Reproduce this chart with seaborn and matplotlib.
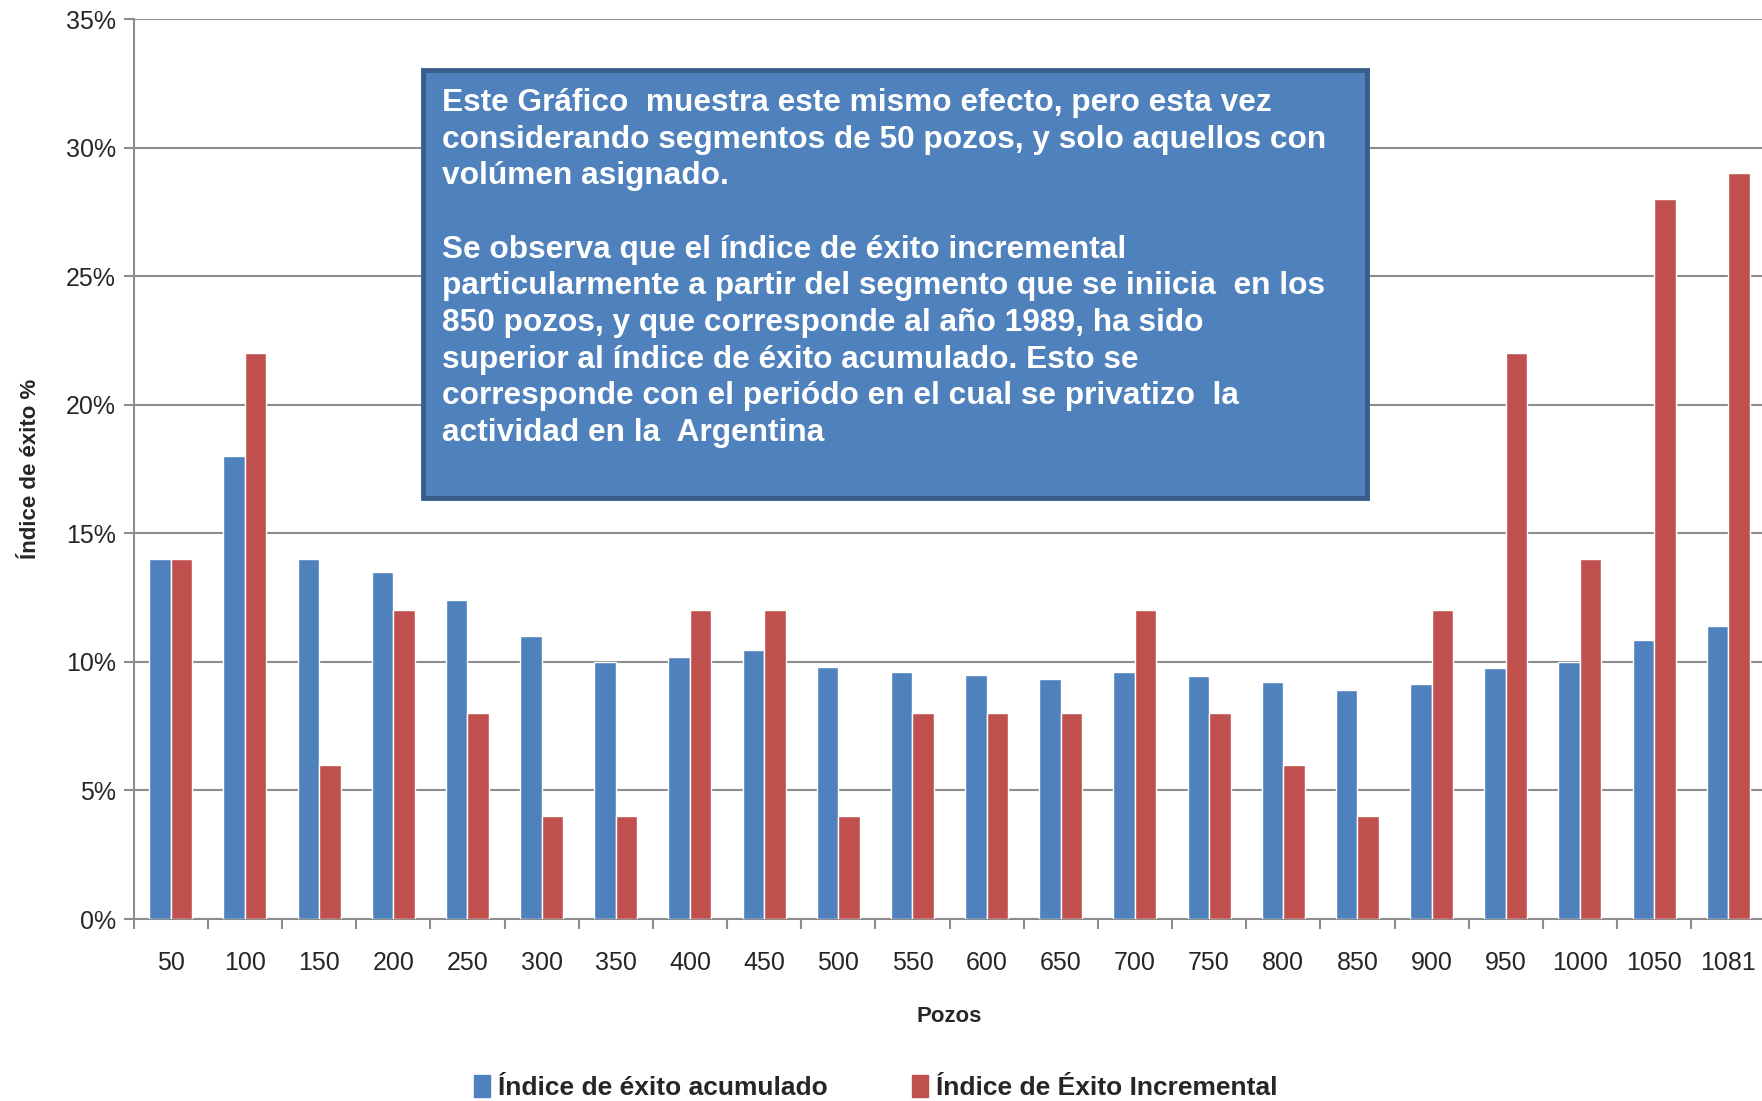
import numpy as np
import pandas as pd
import seaborn as sns
import matplotlib.pyplot as plt
from matplotlib.patches import Rectangle
from matplotlib.ticker import PercentFormatter

pozos = ["50", "100", "150", "200", "250", "300", "350", "400", "450", "500", "550",
         "600", "650", "700", "750", "800", "850", "900", "950", "1000", "1050", "1081"]
acumulado = [14.0, 18.0, 14.0, 13.5, 12.4, 11.0, 10.0, 10.2, 10.45, 9.8, 9.6,
             9.5, 9.35, 9.6, 9.45, 9.2, 8.9, 9.15, 9.75, 10.0, 10.85, 11.4]
incremental = [14, 22, 6, 12, 8, 4, 4, 12, 12, 4, 8,
               8, 8, 12, 8, 6, 4, 12, 22, 14, 28, 29]
series = ["Índice de éxito acumulado", "Índice de Éxito Incremental"]
colores = ["#4F81BD", "#C0504D"]

nota = ("Este Gráfico  muestra este mismo efecto, pero esta vez\n"
        "considerando segmentos de 50 pozos, y solo aquellos con\n"
        "volúmen asignado.\n"
        "\n"
        "Se observa que el índice de éxito incremental\n"
        "particularmente a partir del segmento que se iniicia  en los\n"
        "850 pozos, y que corresponde al año 1989, ha sido\n"
        "superior al índice de éxito acumulado. Esto se\n"
        "corresponde con el periódo en el cual se privatizo  la\n"
        "actividad en la  Argentina")

df = pd.DataFrame({
    "Pozos": pozos * 2,
    "valor": acumulado + incremental,
    "serie": [series[0]] * len(pozos) + [series[1]] * len(pozos),
})

sns.set_style("white")
plt.rcParams["font.family"] = ["Liberation Sans", "DejaVu Sans"]

fig = plt.figure(figsize=(17.62, 11.01), dpi=100)
ax = fig.add_axes([0.0759, 0.1653, 0.926, 0.8173])

sns.barplot(data=df, x="Pozos", y="valor", hue="serie", palette=colores,
            width=0.58, saturation=1, ax=ax, legend=False, zorder=3)

ax.set_ylim(0, 35)
ax.set_xlim(-0.5, len(pozos) - 0.5)
ax.set_yticks(np.arange(0, 36, 5))
ax.yaxis.set_major_formatter(PercentFormatter(decimals=0))
ax.grid(axis="y", color="#8C8C8C", linewidth=1.5, zorder=0)
ax.set_axisbelow(True)

for s in ["top", "right"]:
    ax.spines[s].set_visible(False)
for s in ["left", "bottom"]:
    ax.spines[s].set_color("#8C8C8C")
    ax.spines[s].set_linewidth(1.5)

ax.tick_params(axis="y", which="major", direction="out", length=7, width=1.5,
               color="#8C8C8C", labelsize=18, pad=6, left=True)
ax.tick_params(axis="x", which="major", length=0, labelsize=18, pad=23)
ax.set_xticks(np.arange(-0.5, len(pozos), 1), minor=True)
ax.tick_params(axis="x", which="minor", direction="out", length=7, width=1.5,
               color="#8C8C8C", bottom=True)

ax.set_xlabel("Pozos", fontsize=16, fontweight="bold", labelpad=22)
ax.set_ylabel("Índice de éxito %", fontsize=16, fontweight="bold", labelpad=18)

# caja de texto
caja = Rectangle((0.240, 0.548), 0.536, 0.388, transform=fig.transFigure,
                 facecolor="#4F81BD", edgecolor="#385D8A", linewidth=3.5, zorder=5)
fig.patches.append(caja)
fig.text(0.251, 0.920, nota, color="white", fontsize=22.8, fontweight="bold",
         va="top", ha="left", linespacing=1.29, zorder=6)

handles = [Rectangle((0, 0), 1, 1, color=c) for c in colores]
fig.legend(handles, series, loc="center", bbox_to_anchor=(0.497, 0.012), ncol=2,
           frameon=False, prop={"size": 19, "weight": "bold"},
           handlelength=0.6, handleheight=0.9, handletextpad=0.3, columnspacing=3.2)

fig.savefig("out.png", dpi=100)
